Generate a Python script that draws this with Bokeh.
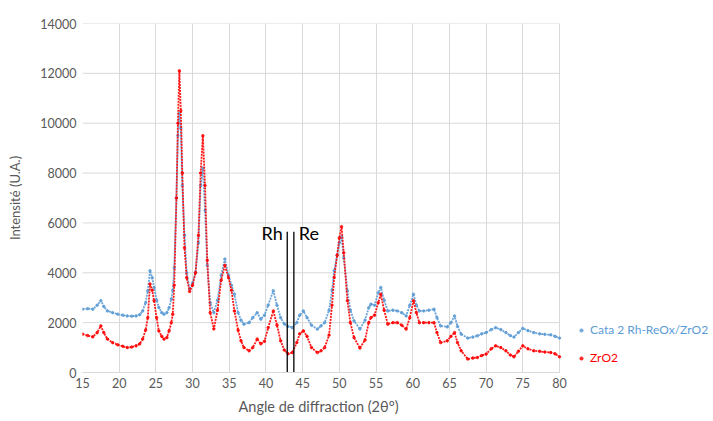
from bokeh.plotting import figure
from bokeh.models import Range1d, Legend, LegendItem, FixedTicker, ColumnDataSource, Title
from bokeh.core.properties import value
from bokeh.embed import file_html
from bokeh.resources import INLINE

angle = [15.0, 15.7, 16.4, 17.0, 17.5, 17.9, 18.4, 19.1, 19.8, 20.5, 21.1, 21.7, 22.3, 22.8,
         23.2, 23.6, 23.9, 24.2, 24.5, 24.75, 25.1, 25.4, 25.8, 26.1, 26.5, 26.8, 27.1, 27.3,
         27.5, 27.8, 28.0, 28.2, 28.4, 28.6, 28.9, 29.2, 29.6, 30.0, 30.4, 30.8, 31.1, 31.4,
         31.7, 32.0, 32.4, 32.9, 33.4, 33.9, 34.4, 34.9, 35.3, 35.7, 36.2, 36.6, 37.0, 37.7,
         38.2, 38.8, 39.3, 39.8, 40.3, 41.0, 41.5, 42.0, 42.5, 43.0, 43.6, 44.2, 44.6, 45.1,
         45.6, 46.2, 47.0, 47.5, 48.0, 48.6, 49.0, 49.3, 49.7, 50.0, 50.3, 50.6, 51.1, 51.5,
         52.0, 52.8, 53.5, 54.0, 54.3, 54.8, 55.3, 55.65, 56.1, 56.6, 57.3, 57.9, 58.5, 59.1,
         59.6, 60.1, 60.5, 60.9, 61.5, 62.2, 62.9, 63.3, 63.8, 64.7, 65.2, 65.7, 66.1, 66.6,
         67.5, 68.2, 68.8, 69.4, 70.0, 70.7, 71.3, 72.0, 72.7, 73.3, 73.8, 74.4, 75.0, 75.7,
         76.5, 77.3, 78.0, 78.8, 79.4, 80.0]

zro2 = [1540, 1480, 1430, 1600, 1870, 1600, 1340, 1200, 1110, 1050, 1000, 1020, 1070, 1150,
        1340, 1700, 2200, 3550, 3300, 2880, 2200, 1670, 1450, 1340, 1400, 1670, 2000, 2340,
        3500, 7000, 10000, 12100, 10500, 8000, 5000, 3800, 3250, 3500, 4000, 5500, 8000, 9500,
        7500, 4500, 2400, 1750, 2500, 3700, 4300, 3800, 3300, 2470, 1700, 1270, 1000, 870,
        1000, 1340, 1150, 1250, 1800, 2470, 1900, 1270, 900, 750, 800, 1200, 1550, 1670,
        1450, 1000, 800, 870, 1000, 1500, 2700, 3810, 4700, 5400, 5850, 4800, 2880, 2000,
        1400, 980, 1300, 2000, 2200, 2300, 2800, 3140, 2500, 1940, 2000, 2000, 1900, 1740,
        2200, 2880, 2400, 2000, 2000, 2000, 2000, 1600, 1200, 1270, 1450, 1600, 1200, 870,
        540, 580, 600, 680, 740, 950, 1070, 1000, 870, 700, 630, 850, 1070, 950,
        870, 850, 820, 800, 750, 630]

cata = [2540, 2560, 2540, 2700, 2880, 2650, 2470, 2400, 2340, 2300, 2270, 2260, 2270, 2320,
        2470, 2800, 3280, 4080, 3800, 3410, 2900, 2610, 2400, 2340, 2400, 2600, 2950, 3300,
        4200, 7000, 9500, 10400, 9800, 7500, 5500, 4000, 3350, 3600, 4000, 5200, 7500, 8200,
        6500, 4300, 2800, 2400, 2900, 3900, 4550, 3900, 3500, 3140, 2400, 2100, 1940, 2000,
        2200, 2400, 2140, 2300, 2700, 3280, 2700, 2200, 1950, 1850, 1800, 2000, 2300, 2470,
        2200, 1900, 1740, 1870, 2000, 2500, 3300, 4080, 4700, 5200, 5450, 4600, 3280, 2500,
        2070, 1740, 2100, 2600, 2740, 2700, 3200, 3410, 2900, 2470, 2500, 2470, 2400, 2270,
        2700, 3140, 2700, 2470, 2470, 2500, 2540, 2200, 1870, 1830, 2000, 2270, 1850, 1540,
        1380, 1420, 1470, 1550, 1600, 1720, 1800, 1720, 1600, 1480, 1420, 1600, 1770, 1680,
        1600, 1550, 1530, 1510, 1450, 1380]

series_names = ["Cata 2 Rh-ReOx/ZrO2", "ZrO2"]
series_colors = ["#5B9BD5", "#FF0000"]

x_ticks = [15, 20, 25, 30, 35, 40, 45, 50, 55, 60, 65, 70, 75, 80]
y_ticks = [0, 2000, 4000, 6000, 8000, 10000, 12000, 14000]
x_min, x_max = 15, 80
y_min, y_max = 0, 14000

x_title = "Angle de diffraction (2θ°)"
y_title = "Intensité (U.A.)"

marker_pos = [42.9, 43.8]
marker_top = 5650
marker_labels = ["Rh", "Re"]
marker_label_x = [40.85, 45.85]
marker_label_y = 5600

FONT = "Lato"
GREY = "#595959"
GRID = "#D9D9D9"

# frame spans from the plot area to the right edge of the page so the legend
# (which sits right of the plot area) is drawn inside the frame
W, H = 712, 420
LEFT, RIGHT_PLOT, TOP, BOTTOM = 82, 559, 23, 372
px_per_unit = (RIGHT_PLOT - LEFT) / (x_max - x_min)
x_end = x_min + (W - LEFT) / px_per_unit

p = figure(width=W, height=H, x_range=Range1d(x_min, x_end), y_range=Range1d(y_min, y_max),
           output_backend="svg", toolbar_location=None,
           min_border_left=LEFT, min_border_right=0, min_border_top=TOP,
           min_border_bottom=H - BOTTOM)
p.outline_line_color = None
p.background_fill_color = "white"

p.xgrid.grid_line_color = GRID
p.ygrid.visible = False
p.xaxis.ticker = FixedTicker(ticks=x_ticks)
p.yaxis.ticker = FixedTicker(ticks=y_ticks)
p.xaxis.bounds = (x_min, x_max)

# horizontal gridlines limited to the plot area
p.segment(x0=[x_min] * len(y_ticks), y0=y_ticks, x1=[x_max] * len(y_ticks), y1=y_ticks,
          line_color=GRID, line_width=1, level="underlay")

for ax in (p.xaxis[0], p.yaxis[0]):
    ax.major_tick_line_color = None
    ax.minor_tick_line_color = None
    ax.major_tick_out = 0
    ax.major_tick_in = 0
    ax.minor_tick_out = 0
    ax.minor_tick_in = 0
    ax.major_label_text_font = FONT
    ax.major_label_text_font_size = "12.5px"
    ax.major_label_text_color = GREY
    ax.axis_label_text_font = FONT
    ax.axis_label_text_font_size = "13px"
    ax.axis_label_text_color = GREY
    ax.axis_label_text_font_style = "normal"

p.xaxis.axis_line_color = GRID
p.yaxis.axis_line_color = None
p.yaxis.axis_label = y_title
p.xaxis.major_label_standoff = 5
p.yaxis.major_label_standoff = 6
p.yaxis.axis_label_standoff = 14

# x-axis title centred under the plot area (not under the wider frame)
xt = Title(text=x_title, align="left", offset=156, standoff=10,
           text_font=FONT, text_font_size="14.5px", text_color=GREY,
           text_font_style="normal")
p.add_layout(xt, "below")

src = ColumnDataSource(dict(x=angle, cata=cata, zro2=zro2))

p.line("x", "cata", source=src, line_color=series_colors[0], line_width=1.8,
       line_dash="2 1", line_alpha=0.9)
r_cata = p.scatter("x", "cata", source=src, size=2.5, color=series_colors[0], alpha=0.8)
p.line("x", "zro2", source=src, line_color=series_colors[1], line_width=1.8,
       line_dash="2 1", line_alpha=0.9)
r_zro2 = p.scatter("x", "zro2", source=src, size=2.5, color=series_colors[1], alpha=0.8)

p.segment(x0=marker_pos, y0=[0, 0], x1=marker_pos, y1=[marker_top, marker_top],
          line_color="black", line_width=1.3)
p.text(x=marker_label_x, y=[marker_label_y] * 2, text=marker_labels,
       text_font=value(FONT), text_font_size="18px", text_color="black",
       text_align="center", text_baseline="alphabetic")

for renderer, name, color, loc in [(r_cata, series_names[0], series_colors[0], (495, 35)),
                                   (r_zro2, series_names[1], series_colors[1], (495, 7))]:
    lg = Legend(items=[LegendItem(label=name, renderers=[renderer])], location=loc,
                padding=0, margin=0, border_line_color=None, background_fill_alpha=0,
                glyph_width=8, glyph_height=8, label_standoff=5, label_height=14,
                label_text_font=FONT, label_text_font_size="12px", label_text_color=color)
    p.add_layout(lg)

open("out.html", "w").write(file_html(p, INLINE))
